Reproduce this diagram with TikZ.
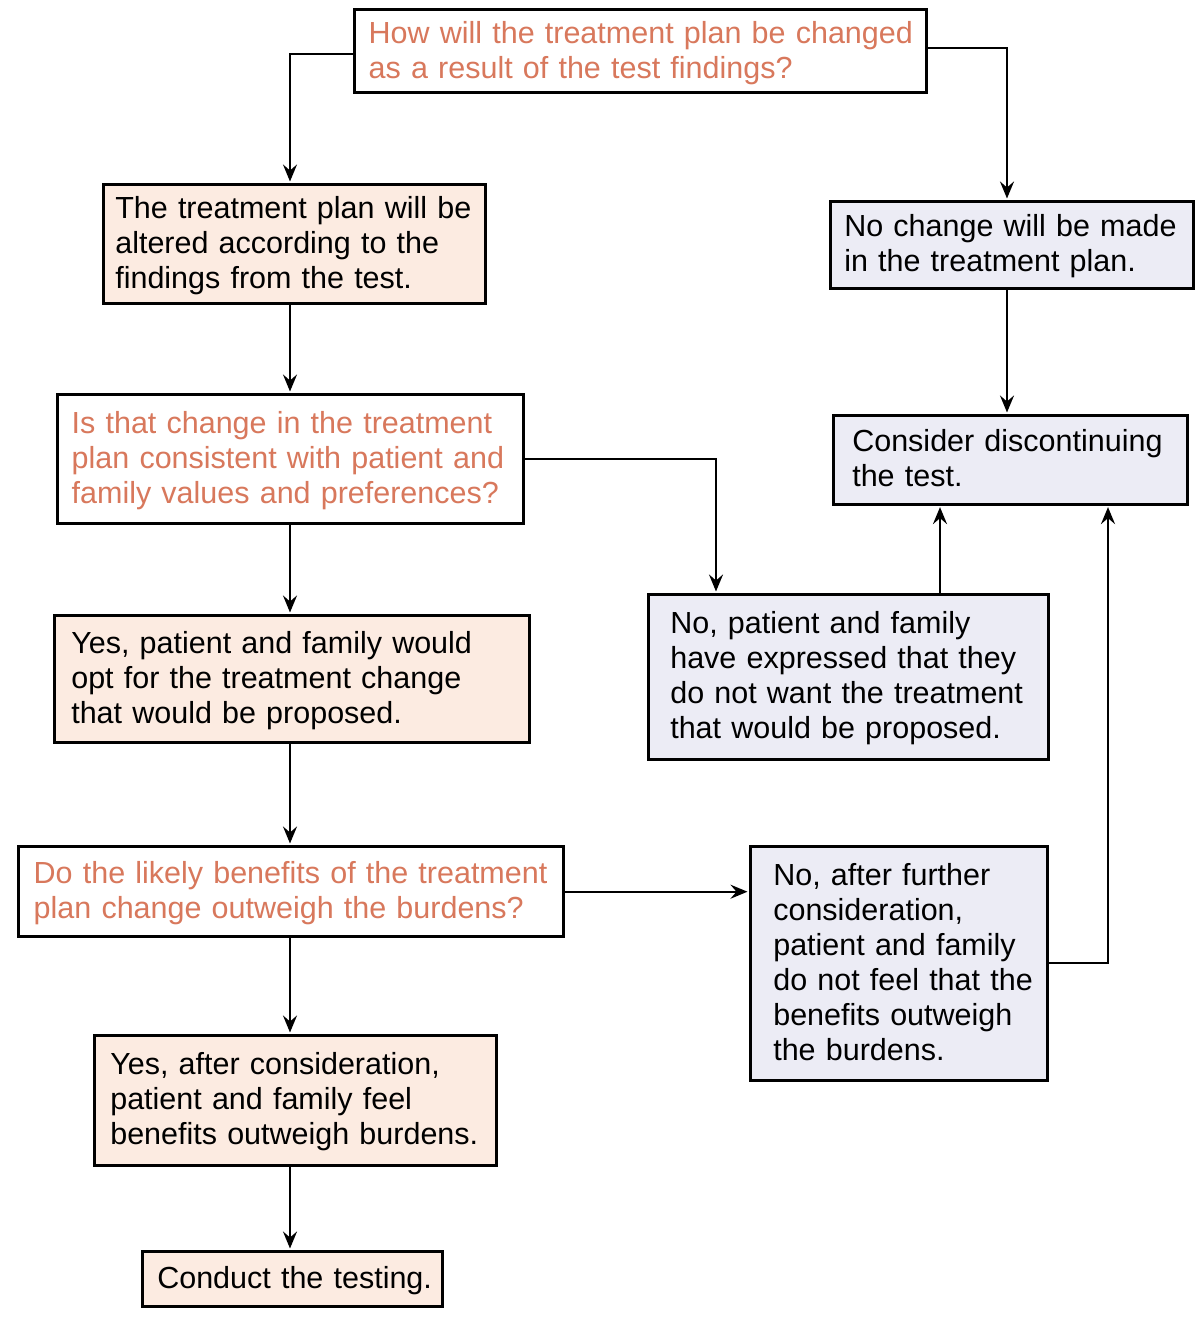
\documentclass[tikz,border=0pt]{standalone}
\usepackage{fontspec}
\setmainfont{Liberation Sans}
\usetikzlibrary{arrows.meta,calc}
\definecolor{qorange}{HTML}{D8785C}
\definecolor{peach}{HTML}{FCEBE1}
\definecolor{lav}{HTML}{ECECF5}
\newcommand\tline[1]{\hbox{\vrule width0pt height27pt depth8pt #1}}
\tikzset{
  basebox/.style={draw=black, anchor=north west, align=left, inner ysep=0pt,
    font=\fontsize{30.5}{35}\selectfont},
  qbox/.style={basebox, line width=3.4pt, fill=white, text=qorange},
  ybox/.style={basebox, line width=2.6pt, fill=peach, text=black},
  nbox/.style={basebox, line width=2.6pt, fill=lav, text=black},
  geom/.style n args={4}{minimum width=#1, minimum height=#2, inner xsep=#3, text width=#4},
  arr/.style={line width=2.4pt, -{Stealth[length=17pt,width=14pt,inset=6pt]}, shorten >=1.5pt}
}
\begin{document}
\begin{tikzpicture}[x=1pt,y=-1pt]
\useasboundingbox[fill=white] (0,0) rectangle (1203,1318);
% boxes
\node[qbox, geom={572pt}{83pt}{14pt}{544pt}] (q1) at (353,8)
  {\vbox{\tline{How will the treatment plan be changed}\tline{as a result of the test findings?}}};
\node[ybox, geom={382pt}{119pt}{12pt}{358pt}] (a1) at (102,183)
  {\vbox{\tline{The treatment plan will be}\tline{altered according to the}\tline{findings from the test.}}};
\node[nbox, geom={363pt}{87pt}{14pt}{335pt}] (n1) at (829,200)
  {\vbox{\tline{No change will be made}\tline{in the treatment plan.}}};
\node[nbox, geom={354pt}{89pt}{19pt}{316pt}] (c) at (832,414)
  {\vbox{\tline{Consider discontinuing}\tline{the test.}}};
\node[qbox, geom={466pt}{129pt}{14pt}{438pt}] (q2) at (56,393)
  {\vbox{\tline{Is that change in the treatment}\tline{plan consistent with patient and}\tline{family values and preferences?}}};
\node[ybox, geom={475pt}{127pt}{17pt}{441pt}] (y2) at (53,614)
  {\vbox{\tline{Yes, patient and family would}\tline{opt for the treatment change}\tline{that would be proposed.}}};
\node[nbox, geom={400pt}{165pt}{22pt}{356pt}] (n2) at (647,593)
  {\vbox{\tline{No, patient and family}\tline{have expressed that they}\tline{do not want the treatment}\tline{that would be proposed.}}};
\node[qbox, geom={545pt}{90pt}{15pt}{515pt}] (q3) at (17,845)
  {\vbox{\tline{Do the likely benefits of the treatment}\tline{plan change outweigh the burdens?}}};
\node[nbox, geom={297pt}{234pt}{23pt}{251pt}] (n3) at (749,845)
  {\vbox{\tline{No, after further}\tline{consideration,}\tline{patient and family}\tline{do not feel that the}\tline{benefits outweigh}\tline{the burdens.}}};
\node[ybox, geom={402pt}{130pt}{16pt}{370pt}] (y3) at (93,1034)
  {\vbox{\tline{Yes, after consideration,}\tline{patient and family feel}\tline{benefits outweigh burdens.}}};
\node[ybox, geom={300pt}{55pt}{15pt}{270pt}] (co) at (141,1250)
  {\vbox{\tline{Conduct the testing.}}};
% spine coordinates
\coordinate (sp) at (290,0);
\coordinate (rs) at (1007,0);
\coordinate (tx) at (716,0);
\coordinate (ux) at (940,0);
\coordinate (vx) at (1108,0);
% connectors
\draw[arr] ($(q1.north west)+(0,46)$) -| (a1.north -| sp);
\draw[arr] ($(q1.north east)+(0,40)$) -| (n1.north -| rs);
\draw[arr] (a1.south -| sp) -- (q2.north -| sp);
\draw[arr] (n1.south -| rs) -- (c.north -| rs);
\draw[arr] (q2.east) -| (n2.north -| tx);
\draw[arr] (n2.north -| ux) -- (c.south -| ux);
\draw[arr] (q2.south -| sp) -- (y2.north -| sp);
\draw[arr] (y2.south -| sp) -- (q3.north -| sp);
\draw[arr] (q3.east) -- (n3.west |- q3.east);
\draw[arr] ($(n3.north east)+(0,118)$) -| (c.south -| vx);
\draw[arr] (q3.south -| sp) -- (y3.north -| sp);
\draw[arr] (y3.south -| sp) -- (co.north -| sp);
\end{tikzpicture}
\end{document}
